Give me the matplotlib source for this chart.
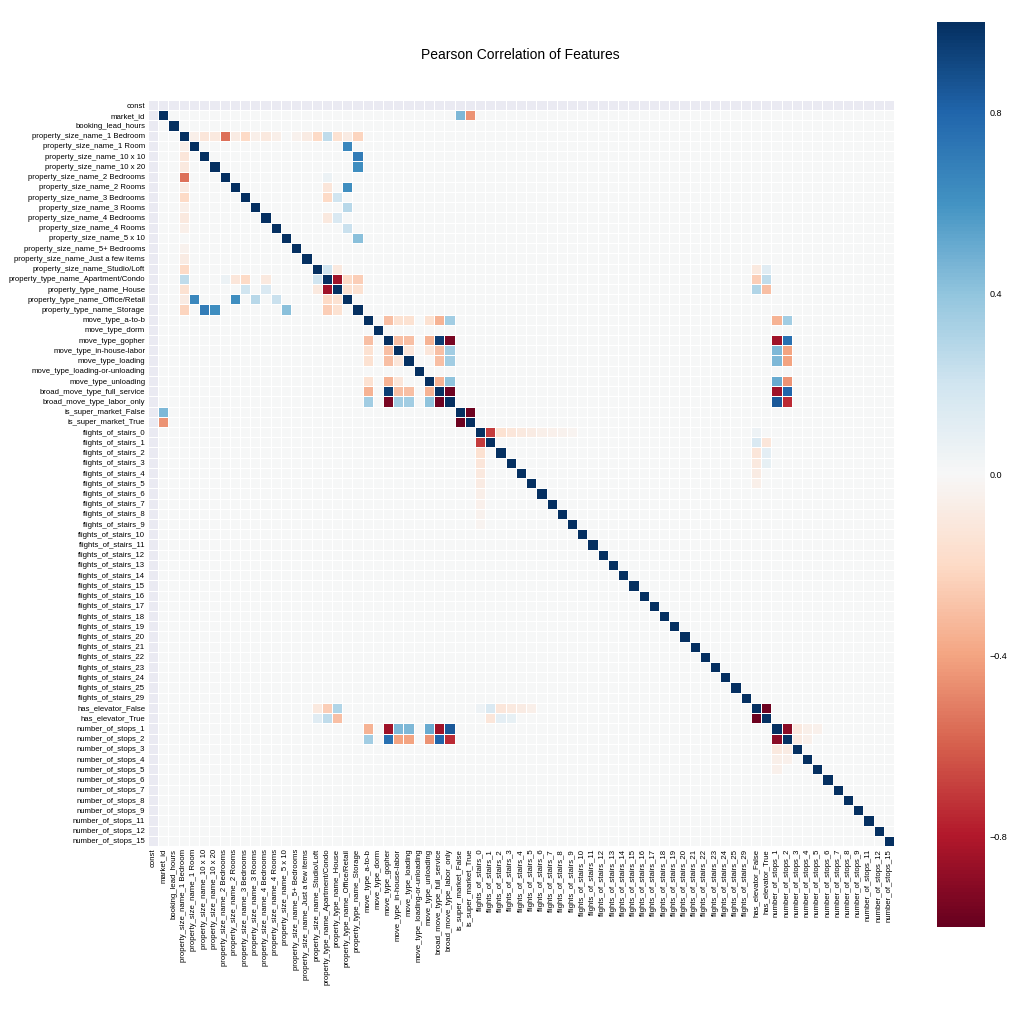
import numpy as np
import matplotlib
matplotlib.use("Agg")
import matplotlib.pyplot as plt

plt.rcParams['font.family'] = ['Liberation Sans', 'DejaVu Sans']

labels = (["const", "market_id", "booking_lead_hours"] +
          ["property_size_name_" + s for s in ["1 Bedroom", "1 Room", "10 x 10", "10 x 20", "2 Bedrooms", "2 Rooms",
                                                "3 Bedrooms", "3 Rooms", "4 Bedrooms", "4 Rooms", "5 x 10",
                                                "5+ Bedrooms", "Just a few items", "Studio/Loft"]] +
          ["property_type_name_" + s for s in ["Apartment/Condo", "House", "Office/Retail", "Storage"]] +
          ["move_type_" + s for s in ["a-to-b", "dorm", "gopher", "in-house-labor", "loading",
                                      "loading-or-unloading", "unloading"]] +
          ["broad_move_type_full_service", "broad_move_type_labor_only",
           "is_super_market_False", "is_super_market_True"] +
          ["flights_of_stairs_%d" % i for i in list(range(26)) + [29]] +
          ["has_elevator_False", "has_elevator_True"] +
          ["number_of_stops_%d" % i for i in list(range(1, 10)) + [11, 12, 15]])

# (row, col, r) pairs (symmetric)
pair_i = [1, 1, 3, 3, 3, 3, 3, 3, 3, 3, 3, 3, 3, 3, 3, 3, 3, 3,
          4, 5, 6, 8, 10, 12, 13, 7, 9, 9, 11, 11, 16, 16, 17, 17, 17, 17, 18, 18, 18,
          21, 21, 21, 21, 21, 21, 23, 23, 23, 23, 23, 24, 24, 24, 24, 25, 25, 27, 27, 28,
          30, 32, 32, 32, 32, 32, 32, 32, 32, 32,
          59, 59, 59, 59, 59, 59, 59, 59, 59, 60, 60, 60, 60, 60, 60,
          61, 61, 61, 61, 61, 61, 61, 61, 62, 62, 62, 62, 62, 62, 62, 59, 61, 61, 61, 62, 62]
pair_j = [30, 31, 4, 5, 6, 7, 8, 9, 10, 11, 12, 15, 16, 17, 18, 19, 20, 14,
          19, 20, 20, 19, 19, 19, 20, 17, 17, 18, 17, 18, 17, 18, 18, 19, 20, 8, 19, 20, 16,
          23, 24, 25, 27, 28, 29, 24, 25, 27, 28, 29, 25, 27, 28, 29, 28, 29, 28, 29, 29,
          31, 33, 34, 35, 36, 37, 38, 39, 40, 41,
          60, 17, 18, 16, 33, 34, 35, 36, 37, 17, 18, 16, 33, 34, 35,
          21, 23, 24, 25, 27, 28, 29, 62, 21, 23, 24, 25, 27, 28, 29, 32, 63, 64, 65, 63, 64]
pair_r = [0.45, -0.45, -0.06, -0.12, -0.1, -0.55, -0.08, -0.2, -0.06, -0.1, -0.06, -0.08, -0.2, 0.25, -0.15, -0.08, -0.22, -0.04,
          0.65, 0.7, 0.62, 0.62, 0.28, 0.22, 0.42, 0.06, -0.2, 0.2, -0.1, 0.15, 0.2, -0.2, -0.85, -0.2, -0.25, -0.12, -0.15, -0.15, -0.1,
          -0.3, -0.15, -0.15, -0.15, -0.35, 0.35, -0.3, -0.3, -0.35, 0.95, -0.95, -0.12, -0.12, -0.3, 0.35, -0.3, 0.35, -0.35, 0.4, -0.98,
          -0.98, -0.7, -0.15, -0.12, -0.1, -0.08, -0.06, -0.05, -0.04, -0.03,
          -0.98, -0.25, 0.3, -0.1, 0.15, -0.12, -0.1, -0.08, -0.06, 0.25, -0.3, 0.12, -0.12, 0.1, 0.08,
          -0.35, -0.85, 0.45, 0.45, 0.5, -0.85, 0.85, -0.9, 0.35, 0.75, -0.4, -0.4, -0.45, 0.8, -0.75, 0.05, -0.1, -0.06, -0.05, -0.08, -0.05]

n = len(labels)
corr = np.eye(n)
for i, j, r in zip(pair_i, pair_j, pair_r):
    corr[i, j] = r
    corr[j, i] = r
corr[0, :] = np.nan
corr[:, 0] = np.nan
data = np.ma.masked_invalid(corr)

fig = plt.figure(figsize=(10.24, 10.11), dpi=100)
ax = fig.add_axes([148 / 1024, 1 - 846 / 1011, 746 / 1024, 746 / 1011])
cax = fig.add_axes([937 / 1024, 1 - 927 / 1011, 48 / 1024, 905 / 1011])
ax.set_facecolor("#EAEAF2")
mesh = ax.pcolormesh(data, cmap="RdBu", vmin=-1, vmax=1, edgecolors="white", linewidth=0.6)
ax.set_xlim(0, n)
ax.set_ylim(n, 0)
ax.set_xticks(np.arange(n) + 0.5)
ax.set_yticks(np.arange(n) + 0.5)
ax.set_xticklabels(labels, rotation=90, fontsize=5.6)
ax.set_yticklabels(labels, fontsize=5.6)
ax.tick_params(length=0, pad=2)
for s in ax.spines.values():
    s.set_visible(False)
cb = fig.colorbar(mesh, cax=cax, ticks=[-0.8, -0.4, 0.0, 0.4, 0.8])
cb.outline.set_visible(False)
cax.tick_params(labelsize=6.5, length=0)
fig.text(0.508, 1 - 55 / 1011, "Pearson Correlation of Features", ha="center", va="center", fontsize=10)
fig.savefig("out.png", dpi=100)
